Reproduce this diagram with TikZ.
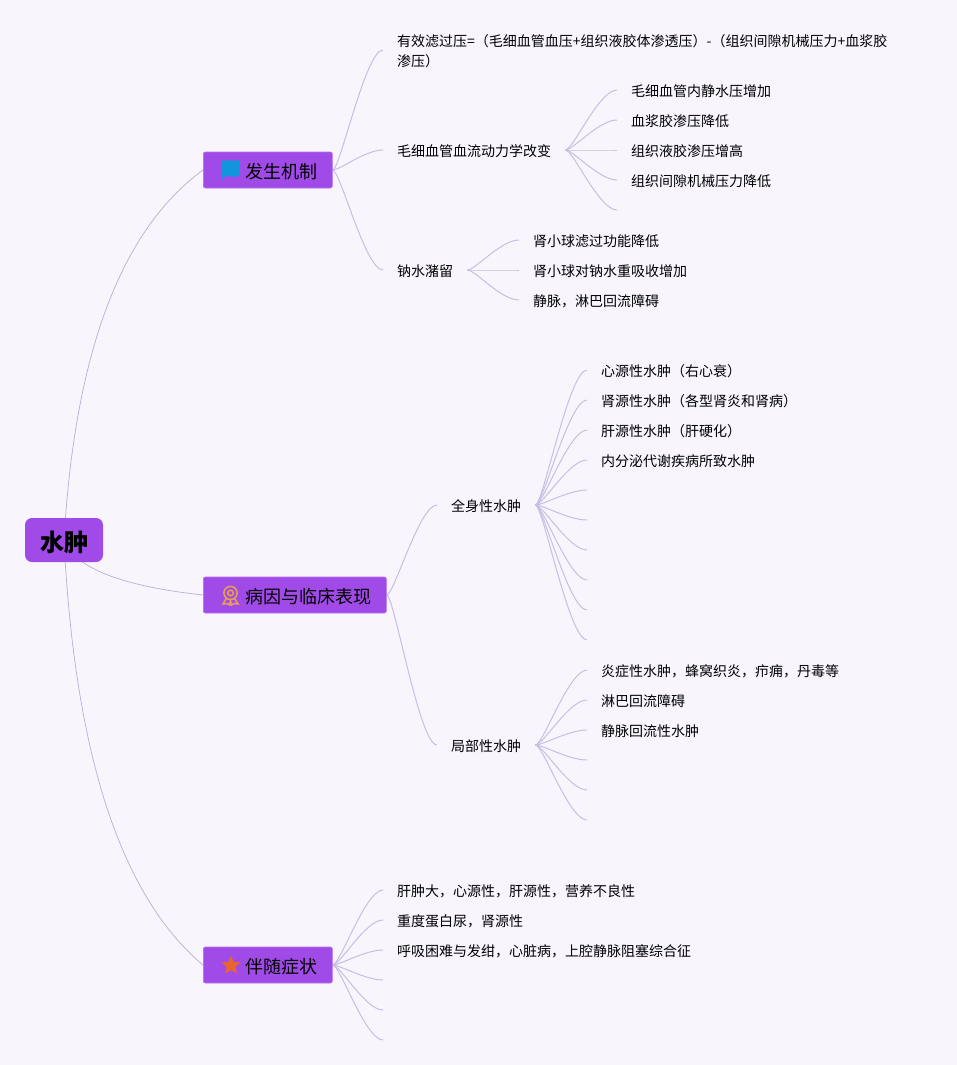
\documentclass[tikz,border=0pt]{standalone}
\usepackage{fontspec}
\setmainfont{Noto Sans CJK SC}
\usetikzlibrary{calc,positioning,shapes.geometric,backgrounds}
\definecolor{pagebg}{RGB}{248,245,253}
\definecolor{accent}{RGB}{160,75,232}
\definecolor{accentedge}{RGB}{182,110,240}
\definecolor{linkline}{RGB}{201,190,226}
\definecolor{rootline}{RGB}{185,175,212}
\definecolor{flagblue}{RGB}{18,150,219}
\definecolor{medalorange}{RGB}{232,160,74}
\definecolor{starorange}{RGB}{232,101,47}
% branch curves
\newcommand{\linkto}[2]{%
  \coordinate (midA) at ($(#1)!.15!(#2)$);
  \coordinate (midB) at ($(#1)!.65!(#2)$);
  \draw[link] (#1) .. controls (midA |- #1) and (midB |- #2) .. (#2);}
\newcommand{\rootto}[2]{%
  \coordinate (midA) at ($(#1)!.115!(#2)$);
  \coordinate (midB) at ($(#1)!.757!(#2)$);
  \draw[rootlink] (#1) .. controls ($(#1)!.667!(midA |- midB)$) and ($(#2)!.667!(midA |- midB)$) .. (#2);}

\begin{document}
\begin{tikzpicture}[x=1pt,y=-1pt,
      link/.style={draw=linkline,line width=1pt},
      rootlink/.style={draw=rootline,line width=0.7pt},
      rootbox/.style={fill=accent,rounded corners=7pt,minimum width=78pt,minimum height=44pt,inner sep=0pt,
        text height=25pt,text depth=3pt,font=\fontsize{24}{28}\selectfont\bfseries},
      mainbox/.style={fill=accent,draw=accentedge,line width=0.6pt,rounded corners=2pt,anchor=west,minimum height=36pt,
        inner ysep=0pt,inner xsep=15pt,text height=19pt,text depth=2pt,font=\fontsize{18}{22}\selectfont},
      leaf/.style={anchor=west,inner xsep=14pt,inner ysep=0pt,align=left,font=\fontsize{14}{20}\selectfont},
      oneline/.style={leaf,text height=15pt,text depth=1.4pt}]
    \node[rootbox] (shuizhong) at (64,540) {水肿};
    \node[mainbox] (jizhi) at (203,170) {\hspace*{27pt}发生机制};
    \node[mainbox] (bingyin) at (203,595) {\hspace*{27pt}病因与临床表现};
    \node[mainbox] (banSui) at (203,965) {\hspace*{27pt}伴随症状};
    % icons
    \fill[flagblue] (221,161) .. controls (227,159.5) and (233,161.5) .. (240,160) -- (239,176) .. controls (234,177.5) and (228,175.5) .. (222.5,177) -- (222.5,180) -- (221,180) -- cycle;
    \draw[medalorange,line width=1.5pt] (230.5,593) circle (6.6pt) (230.5,593) circle (2.8pt)
      (226,599) -- (223,604) -- (227,603.5) -- (229.5,605) -- (230.5,601) -- (231.5,605) -- (234,603.5) -- (238,604) -- (235,599);
    \node[star,star points=5,star point ratio=2.2,fill=starorange,inner sep=0pt,minimum size=20pt] (starmark) at (231,965.5) {};
    % mechanism
    \node[leaf] (lvya) at (383,51.5) {有效滤过压=（毛细血管血压+组织液胶体渗透压）-（组织间隙机械压力+血浆胶\\渗压）};
    \coordinate (lvyaend) at ([yshift=1.5pt]lvya.west);
    \node[oneline] (gaibian) at (383,150) {毛细血管血流动力学改变};
    \node[oneline] (zhuliu) at (383,270) {钠水潴留};
    \node[oneline] (g1) at (617,90) {毛细血管内静水压增加};
    \node[oneline] (g2) at (617,120) {血浆胶渗压降低};
    \node[oneline] (g3) at (617,150) {组织液胶渗压增高};
    \node[oneline] (g4) at (617,180) {组织间隙机械压力降低};
    \coordinate (g5) at (617,210);
    \node[oneline] (z1) at (519,240) {肾小球滤过功能降低};
    \node[oneline] (z2) at (519,270) {肾小球对钠水重吸收增加};
    \node[oneline] (z3) at (519,300) {静脉，淋巴回流障碍};
    % causes
    \node[oneline] (quanshen) at (437,505) {全身性水肿};
    \node[oneline] (jubu) at (437,745) {局部性水肿};
    \node[oneline] (q1) at (587,370) {心源性水肿（右心衰）};
    \node[oneline] (q2) at (587,400) {肾源性水肿（各型肾炎和肾病）};
    \node[oneline] (q3) at (587,430) {肝源性水肿（肝硬化）};
    \node[oneline] (q4) at (587,460) {内分泌代谢疾病所致水肿};
    \node[oneline] (j1) at (587,670) {炎症性水肿，蜂窝织炎，疖痈，丹毒等};
    \node[oneline] (j2) at (587,700) {淋巴回流障碍};
    \node[oneline] (j3) at (587,730) {静脉回流性水肿};
    % symptoms
    \node[oneline] (b1) at (383,890) {肝肿大，心源性，肝源性，营养不良性};
    \node[oneline] (b2) at (383,920) {重度蛋白尿，肾源性};
    \node[oneline] (b3) at (383,950) {呼吸困难与发绀，心脏病，上腔静脉阻塞综合征};
    \begin{scope}[on background layer]
      \fill[pagebg] (0,0) rectangle (957,1065);
      \rootto{shuizhong.center}{jizhi.west}
      \rootto{shuizhong.center}{bingyin.west}
      \rootto{shuizhong.center}{banSui.west}
      \linkto{jizhi.east}{lvyaend}
      \foreach \n in {gaibian,zhuliu}{\linkto{jizhi.east}{\n.west}}
      \foreach \n in {g1,g2,g3,g4}{\linkto{gaibian.east}{\n.west}}
      \linkto{gaibian.east}{g5}
      \foreach \n in {z1,z2,z3}{\linkto{zhuliu.east}{\n.west}}
      \foreach \n in {quanshen,jubu}{\linkto{bingyin.east}{\n.west}}
      \foreach \n in {q1,q2,q3,q4}{\linkto{quanshen.east}{\n.west}}
      \foreach \y in {490,520,...,640}{
        \coordinate (qe\y) at (587,\y);
        \linkto{quanshen.east}{qe\y}}
      \foreach \n in {j1,j2,j3}{\linkto{jubu.east}{\n.west}}
      \foreach \y in {760,790,820}{
        \coordinate (je\y) at (587,\y);
        \linkto{jubu.east}{je\y}}
      \foreach \n in {b1,b2,b3}{\linkto{banSui.east}{\n.west}}
      \foreach \y in {980,1010,1040}{
        \coordinate (be\y) at (383,\y);
        \linkto{banSui.east}{be\y}}
    \end{scope}
  \end{tikzpicture}
\end{document}
